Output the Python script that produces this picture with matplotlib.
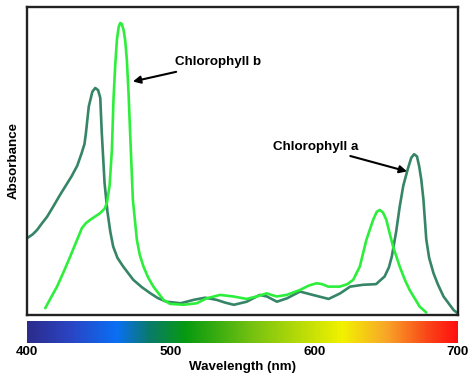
import numpy as np
import matplotlib
matplotlib.use("Agg")
import matplotlib.pyplot as plt
from matplotlib.colors import LinearSegmentedColormap

# chlorophyll a (relative absorbance)
chl_a_nm = [400, 404, 407, 410, 414, 418, 423, 427, 431, 435, 438, 440, 441,
            443, 445.5, 447.5, 449.5, 451, 452, 454, 456, 458, 460, 463, 467,
            474, 480, 486, 491, 497, 507, 516, 524, 532, 538, 544, 553, 562,
            567, 574, 581, 590, 599, 610, 618, 625, 634, 643, 649, 652, 654,
            657, 659.5, 662, 665, 667.5, 669.5, 671.5, 673, 674.5, 676, 678,
            680, 683, 686, 690, 697, 700]
chl_a_abs = [0.249, 0.262, 0.276, 0.295, 0.319, 0.350, 0.390, 0.420, 0.450,
             0.485, 0.525, 0.555, 0.590, 0.677, 0.725, 0.737, 0.730, 0.705,
             0.596, 0.428, 0.335, 0.270, 0.222, 0.185, 0.157, 0.114, 0.090,
             0.070, 0.055, 0.043, 0.038, 0.049, 0.056, 0.049, 0.040, 0.033,
             0.043, 0.065, 0.060, 0.043, 0.054, 0.076, 0.065, 0.052, 0.070,
             0.092, 0.098, 0.100, 0.125, 0.155, 0.190, 0.270, 0.352, 0.420,
             0.472, 0.510, 0.522, 0.515, 0.484, 0.440, 0.375, 0.245, 0.185,
             0.136, 0.100, 0.060, 0.016, 0.005]

# chlorophyll b
chl_b_nm = [412.7, 416.5, 420.9, 425.5, 430.1, 434.5, 438.2, 441.0, 444.0,
            451.0, 454.0, 455.6, 457.5, 459.1, 460.2, 461.4, 462.6, 463.8,
            464.9, 466.0, 467.2, 468.4, 469.5, 470.7, 471.8, 473.7, 476.5,
            478.5, 481.1, 484.5, 488.0, 495.0, 499.6, 508.9, 518.2, 525.1,
            534.4, 543.7, 552.9, 559.9, 566.8, 573.8, 580.7, 590.0, 596.0,
            601.6, 605.5, 609.7, 617.8, 623.0, 627.1, 631.7, 636.3, 641.0,
            643.5, 645.6, 647.8, 650.2, 652.5, 654.9, 659.5, 663.0, 666.4,
            673.4, 678.0]
chl_b_abs = [0.022, 0.055, 0.092, 0.140, 0.190, 0.240, 0.282, 0.298, 0.309,
             0.331, 0.345, 0.363, 0.420, 0.536, 0.699, 0.810, 0.894, 0.935,
             0.948, 0.945, 0.926, 0.890, 0.829, 0.720, 0.590, 0.374, 0.244,
             0.195, 0.157, 0.120, 0.092, 0.049, 0.036, 0.033, 0.038, 0.054,
             0.065, 0.060, 0.052, 0.060, 0.070, 0.060, 0.065, 0.081, 0.095,
             0.103, 0.100, 0.092, 0.092, 0.100, 0.114, 0.157, 0.244, 0.309,
             0.335, 0.341, 0.333, 0.309, 0.265, 0.222, 0.157, 0.115, 0.081,
             0.027, 0.008]

ticks = [400, 500, 600, 700]

# visible spectrum strip
spec_nm = [400, 430, 462, 485, 510, 560, 620, 650, 680, 700]
spec_col = ["#2c2c8c", "#2a45c4", "#0a6ff5", "#0a7a6a", "#069a10", "#7cc410",
            "#f2f200", "#f8a828", "#fa4418", "#ff1010"]

DARK, BRIGHT = "#358566", "#2eee3c"
BOLD = dict(family=["Liberation Sans", "DejaVu Sans"], weight="bold")
FS = 9.6

fig = plt.figure(figsize=(4.74, 3.79), dpi=100)
ax = fig.add_axes([0.057, 0.169, 0.909, 0.8125])
ax.plot(chl_a_nm, chl_a_abs, color=DARK, lw=1.9, solid_capstyle="round",
        solid_joinstyle="round")
ax.plot(chl_b_nm, chl_b_abs, color=BRIGHT, lw=1.9, solid_capstyle="round",
        solid_joinstyle="round")
ax.set_xlim(400, 700)
ax.set_ylim(0, 1)
ax.set_xticks([])
ax.set_yticks([])
for s in ax.spines.values():
    s.set_linewidth(1.7)
    s.set_color("#222222")
ax.set_ylabel("Absorbance", fontsize=FS, labelpad=5, **BOLD)

arrow = dict(arrowstyle="-|>", color="black", lw=1.5, mutation_scale=11,
             shrinkA=2, shrinkB=0)
ax.annotate("Chlorophyll b", xy=(473.7, 0.758), xytext=(503, 0.820),
            ha="left", va="center", fontsize=FS, arrowprops=arrow, **BOLD)
ax.annotate("Chlorophyll a", xy=(664.6, 0.466), xytext=(630.5, 0.547),
            ha="right", va="center", fontsize=FS, arrowprops=arrow, **BOLD)

cmap = LinearSegmentedColormap.from_list(
    "spectrum", [((n - 400) / 300, c) for n, c in zip(spec_nm, spec_col)])
cax = fig.add_axes([0.057, 0.095, 0.909, 0.058])
grad = np.linspace(400, 700, 600)[None, :]
cax.imshow(grad, aspect="auto", cmap=cmap, extent=(400, 700, 0, 1),
           vmin=400, vmax=700)
cax.set_xlim(400, 700)
cax.set_yticks([])
cax.set_xticks(ticks)
cax.set_xticklabels([str(t) for t in ticks], fontsize=FS, **BOLD)
cax.tick_params(length=0, pad=2.5)
for s in cax.spines.values():
    s.set_visible(False)
cax.set_xlabel("Wavelength (nm)", fontsize=FS, labelpad=1.5, **BOLD)

fig.savefig("out.png", dpi=100)
